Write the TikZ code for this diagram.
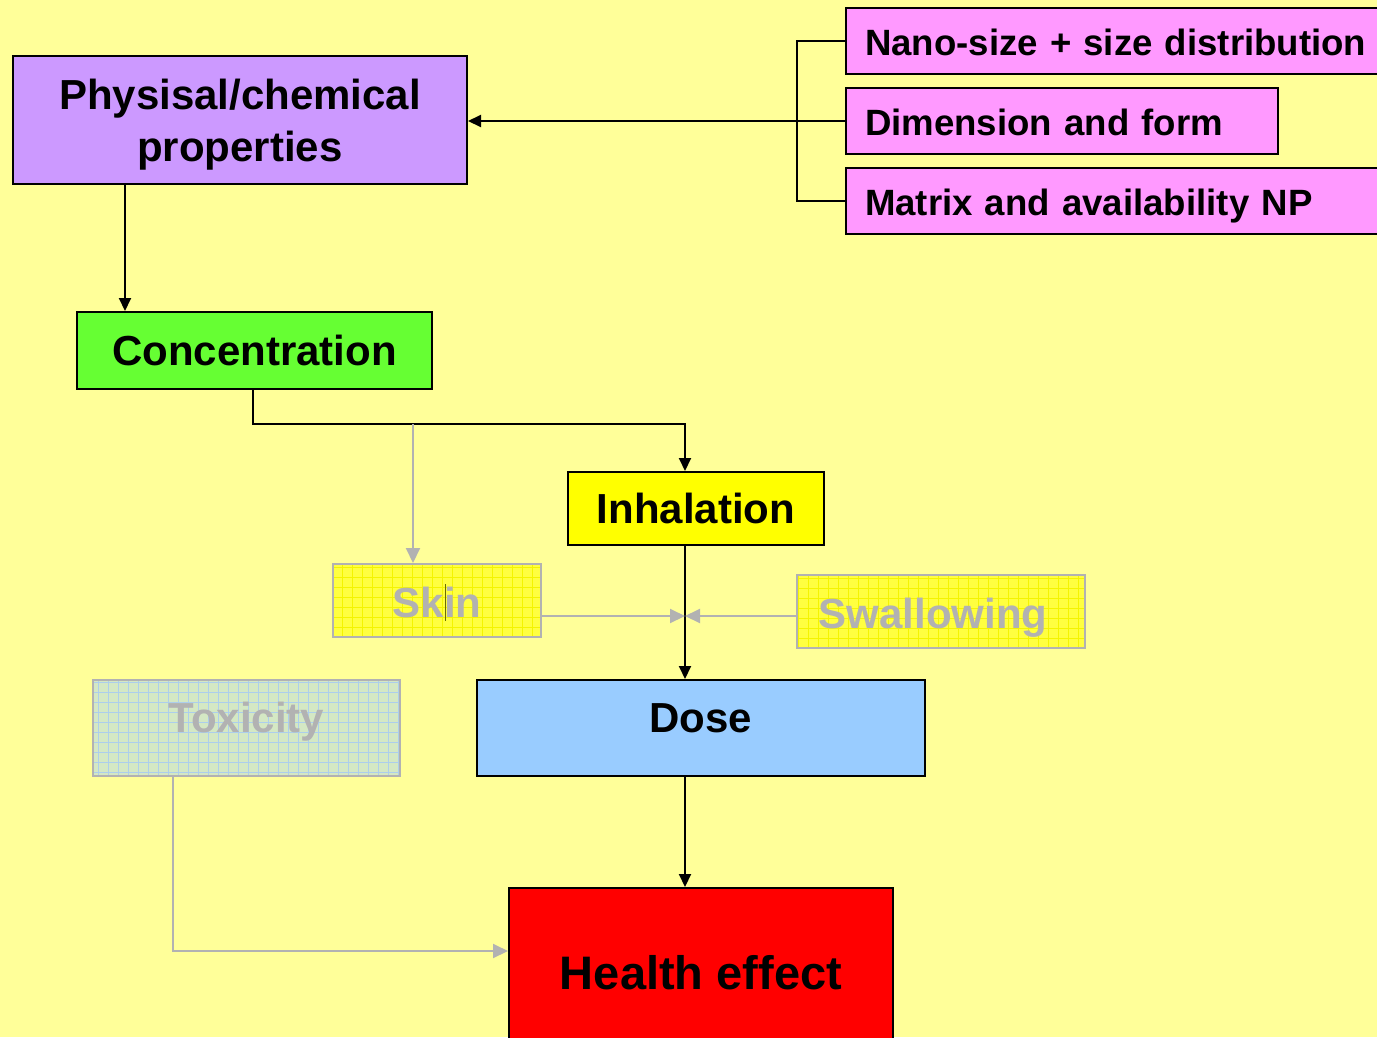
\documentclass[tikz,border=0pt]{standalone}
\usepackage{fontspec}
\setmainfont{Liberation Sans}
\usetikzlibrary{arrows.meta}
\definecolor{bgyellow}{HTML}{FFFF99}
\definecolor{lavender}{HTML}{CC99FF}
\definecolor{lime}{HTML}{66FF33}
\definecolor{brightyellow}{HTML}{FFFF00}
\definecolor{skyblue}{HTML}{99CCFF}
\definecolor{pinkbox}{HTML}{FF99FF}
\definecolor{fadegray}{HTML}{B2B2B2}
\definecolor{paleyellow}{HTML}{FFFF40}
\definecolor{gridyellow}{HTML}{F4F400}
\definecolor{palegreen}{HTML}{D4E8C4}
\definecolor{gridblue}{HTML}{ACCEEC}
\definecolor{cursor}{HTML}{6B6B00}
\begin{document}
\begin{tikzpicture}[x=1pt,y=-1pt,
  box/.style={draw=black, line width=2pt, inner sep=0pt, align=center,
    font=\bfseries\fontsize{42}{52}\selectfont},
  listbox/.style={draw=black, line width=2pt, fill=pinkbox, anchor=west,
    inner xsep=19pt, inner ysep=0pt, minimum height=66pt, text width=#1, align=left,
    text height=28pt, text depth=0pt,
    font=\bfseries\fontsize{36.6}{44}\selectfont},
  fadebox/.style={draw=fadegray, line width=2pt, inner sep=0pt, align=center,
    text=fadegray, font=\bfseries\fontsize{42}{52}\selectfont},
  yellowgrid/.style={fadebox, fill=paleyellow,
    path picture={\draw[gridyellow, line width=0.6pt]
      (path picture bounding box.south west) grid[step=10pt]
      (path picture bounding box.north east);}},
  greengrid/.style={fadebox, fill=palegreen,
    path picture={\draw[gridblue, line width=0.6pt]
      (path picture bounding box.south west) grid[step=10pt]
      (path picture bounding box.north east);}},
  wire/.style={line width=2pt, black},
  conn/.style={wire, -{Triangle[length=13pt,width=12pt]}},
  gconn/.style={line width=2pt, fadegray, -{Triangle[length=15pt,width=14pt]}}
]
% page and background
\useasboundingbox (0,0) rectangle (1377,1037);
\fill[bgyellow] (0,0) rectangle (1377,1037);

% main boxes
\node[box, fill=lavender, minimum width=454pt, minimum height=128pt] (phys) at (240,120)
  {\rule{0pt}{39pt}Physisal/chemical\\properties};
\node[box, fill=lime, minimum width=355pt, minimum height=77pt] (conc) at (254.5,350.5)
  {Concentration};
\node[box, fill=brightyellow, minimum width=256pt, minimum height=73pt] (inh) at (696,508.5)
  {Inhalation};
\node[yellowgrid, minimum width=208pt, minimum height=73pt, text height=33pt, text depth=0pt]
  (skin) at (437,600.5) {Skin};
\node[yellowgrid, minimum width=288pt, minimum height=73pt, text height=33pt, text depth=0pt]
  (swal) at (941,611.5) {Swallowing\hspace*{16pt}};
\node[greengrid, minimum width=307pt, minimum height=96pt, text height=30pt, text depth=22pt]
  (tox) at (246.5,728) {Toxicity};
\node[box, fill=skyblue, minimum width=448pt, minimum height=96pt, text height=30pt, text depth=22pt]
  (dose) at (701,728) {Dose};
\node[box, fill=red, minimum width=384pt, minimum height=162pt, text height=47pt, text depth=6pt,
  font=\bfseries\fontsize{47}{56}\selectfont] (health) at (701,969) {Health effect};

% property list
\node[listbox=520pt] (nano) at (845,41) {Nano-size + size distribution};
\node[listbox=394pt] (dim) at (845,121) {Dimension and form};
\node[listbox=520pt] (mat) at (845,201) {Matrix and availability NP};

% text cursor mark inside the skin box
\draw[cursor, line width=1pt] (445,584) -- (445,621);

% column and row positions of the connectors
\coordinate (xa) at (125,0);
\coordinate (xc) at (413,0);
\coordinate (xd) at (685,0);
\coordinate (xe) at (173,0);
\coordinate (br) at (797,0);
\coordinate (j1) at (253,424);
\coordinate (m) at (685,616);
\coordinate (yh) at (0,951);

% bracket gathering the property list
\draw[wire] (nano.west) -| (mat.west -| br) -- (mat.west);
\draw[conn] (dim.west) -- (phys.east |- dim.west);

% main flow
\draw[conn] (phys.south -| xa) -- (conc.north -| xa);
\draw[conn] (conc.south -| j1) -- (j1) -| (inh.north -| xd);
\draw[gconn] (xc |- j1) -- (skin.north -| xc);
\draw[conn] (inh.south -| xd) -- (dose.north -| xd);
\draw[gconn] (skin.east |- m) -- (m);
\draw[gconn] (swal.west |- m) -- (m);
\draw[conn] (dose.south -| xd) -- (health.north -| xd);
\draw[gconn] (tox.south -| xe) |- (health.west |- yh);
\end{tikzpicture}
\end{document}
